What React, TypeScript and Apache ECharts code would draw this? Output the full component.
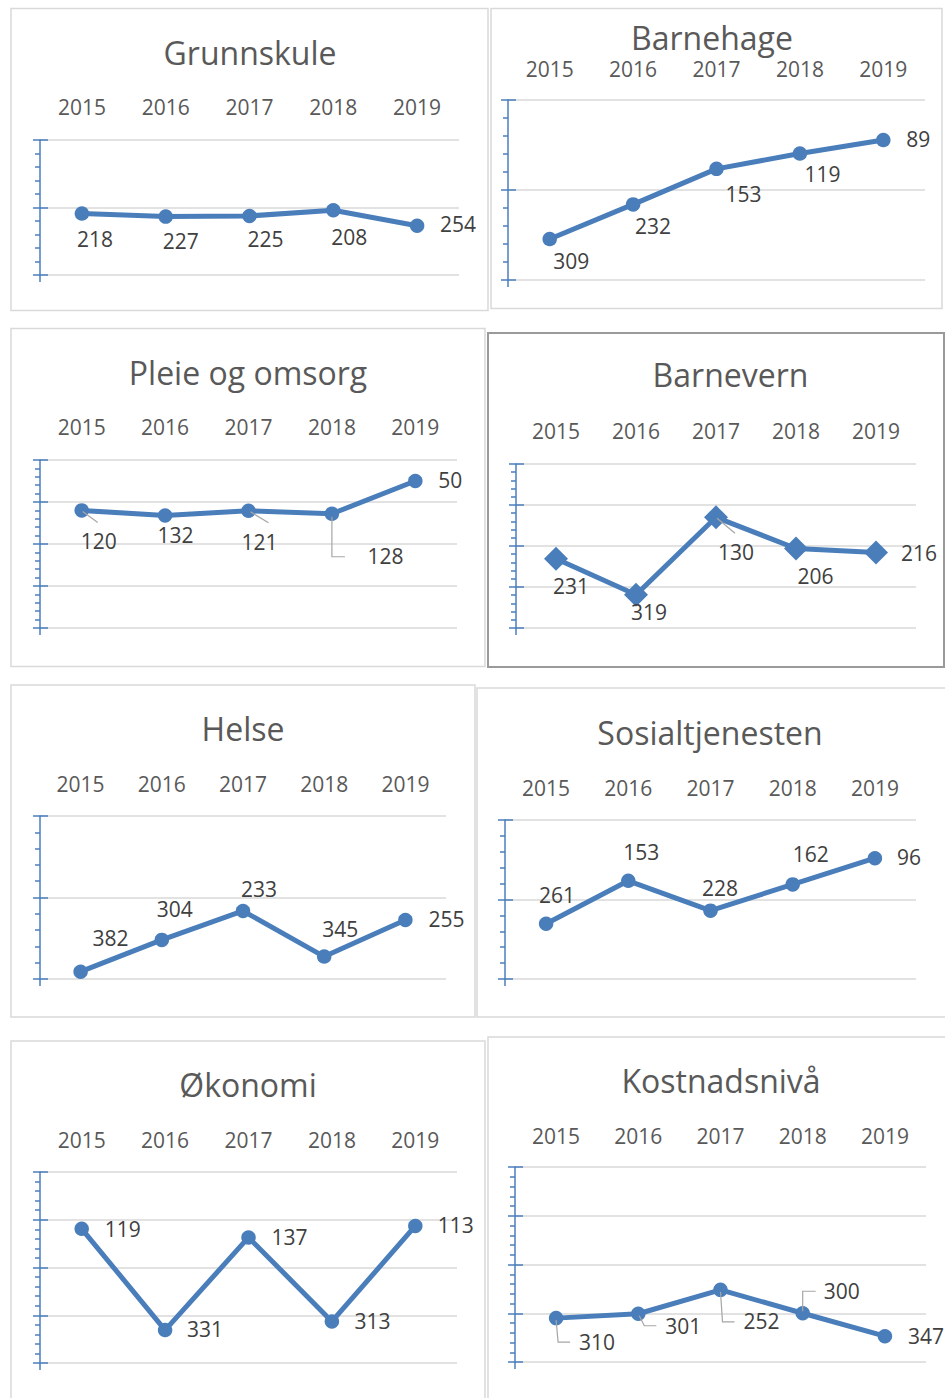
import React, { useEffect, useRef } from 'react';
import * as echarts from 'echarts';

// ---------- data ----------
const years = ['2015', '2016', '2017', '2018', '2019'];
const titles = ['Grunnskule', 'Barnehage', 'Pleie og omsorg', 'Barnevern', 'Helse', 'Sosialtjenesten', 'Økonomi', 'Kostnadsnivå'];
const grunnskule = [218, 227, 225, 208, 254];
const barnehage = [309, 232, 153, 119, 89];
const pleieOgOmsorg = [120, 132, 121, 128, 50];
const barnevern = [231, 319, 130, 206, 216];
const helse = [382, 304, 233, 345, 255];
const sosialtjenesten = [261, 153, 228, 162, 96];
const okonomi = [119, 331, 137, 313, 113];
const kostnadsniva = [310, 301, 252, 300, 347];
const panelValues = [grunnskule, barnehage, pleieOgOmsorg, barnevern, helse, sosialtjenesten, okonomi, kostnadsniva];
const yMin = 0;
const yMax = 400;
const yIntervals = [200, 200, 100, 100, 200, 200, 100, 100];

// ---------- layout / style ----------
type Layout = {
  border: number[];
  borderColor: string;
  borderWidth: number;
  title: number[];
  grid: number[];
  yearGap: number;
  symbol: string;
  symbolSize: number;
  labels: number[][];
  leaders: { idx: number; pts: number[][] }[];
};

const layouts: Layout[] = [
  { border: [11, 8.5, 477, 302], borderColor: '#d9d9d9', borderWidth: 1.5, title: [250, 52], grid: [40, 140, 419, 135], yearGap: 33,
    symbol: 'circle', symbolSize: 14.5, labels: [[13, 27], [15, 26], [16, 25], [16, 28], [41, 0]], leaders: [] },
  { border: [491, 8.5, 451, 300], borderColor: '#d9d9d9', borderWidth: 1.5, title: [712, 37.5], grid: [508, 100, 417, 180], yearGap: 31.5,
    symbol: 'circle', symbolSize: 14.5, labels: [[21.5, 23], [20, 23.5], [27, 26.5], [22.5, 21.5], [35, 0]], leaders: [] },
  { border: [11, 328.5, 474, 338], borderColor: '#d9d9d9', borderWidth: 1.5, title: [248, 372.5], grid: [40, 460, 417, 168], yearGap: 33,
    symbol: 'circle', symbolSize: 14.5, labels: [[17, 32], [10.5, 21], [11, 33], [53.5, 44], [35, 0]],
    leaders: [
      { idx: 0, pts: [[1, 1], [16, 12]] },
      { idx: 2, pts: [[2, 1], [20, 12]] },
      { idx: 3, pts: [[0, 3], [0, 43], [13, 43]] },
    ] },
  { border: [488, 333, 456, 334], borderColor: '#9a9a9a', borderWidth: 2, title: [730.5, 374.5], grid: [516, 464, 400, 164], yearGap: 33,
    symbol: 'diamond', symbolSize: 24, labels: [[15, 28.5], [13, 18.5], [20, 36], [19.5, 29.5], [43, 1.5]],
    leaders: [{ idx: 2, pts: [[1, 1], [19, 16]] }] },
  { border: [11, 685, 464, 332], borderColor: '#d9d9d9', borderWidth: 1.5, title: [243, 728], grid: [40, 816, 406, 163], yearGap: 32.5,
    symbol: 'circle', symbolSize: 14.5, labels: [[30, -32], [13, -29], [16, -20], [16, -26], [41, 1]], leaders: [] },
  { border: [477, 688, 470, 329], borderColor: '#d9d9d9', borderWidth: 1.5, title: [710, 732], grid: [505, 820, 411, 159], yearGap: 32.5,
    symbol: 'circle', symbolSize: 14.5, labels: [[11, -27], [13, -27], [9.5, -21], [18, -29], [34, 0]], leaders: [] },
  { border: [11, 1041, 474, 400], borderColor: '#d9d9d9', borderWidth: 1.5, title: [248, 1084], grid: [40, 1172, 417, 191], yearGap: 32,
    symbol: 'circle', symbolSize: 14.5, labels: [[41, 2], [40, 0.5], [41, 1], [40.5, 1.3], [40.5, 1]], leaders: [] },
  { border: [488, 1037, 470, 400], borderColor: '#d9d9d9', borderWidth: 1.5, title: [721, 1080], grid: [515, 1167, 411, 195], yearGap: 31,
    symbol: 'circle', symbolSize: 14.5, labels: [[41, 25], [45, 14], [41, 33], [39, -21], [41, 1]],
    leaders: [
      { idx: 0, pts: [[0, 2], [2, 24], [14, 24]] },
      { idx: 1, pts: [[1, 2], [6, 12], [18, 12]] },
      { idx: 2, pts: [[0, 2], [2, 32], [14, 32]] },
      { idx: 3, pts: [[0, -2], [0, -22], [13, -22]] },
    ] },
];

const labelNudgeY = -1.5;
const BLUE = '#4a7ebb';
const FONT = '"Open Sans", "Noto Sans", sans-serif';

function buildBaseGraphics(): any[] {
  const g: any[] = [];
  layouts.forEach((l, i) => {
    const [bx, by, bw, bh] = l.border;
    g.push({
      id: 'border' + i, type: 'rect', z: 0, silent: true,
      shape: { x: bx, y: by, width: bw, height: bh },
      style: { fill: '#ffffff', stroke: l.borderColor, lineWidth: l.borderWidth },
    });
    g.push({
      id: 'title' + i, type: 'text', z: 10, silent: true,
      x: l.title[0], y: l.title[1],
      style: { text: titles[i], fill: '#595959', font: '32px ' + FONT, align: 'center', verticalAlign: 'middle' },
    });
    const [gl, gt, , gh] = l.grid;
    g.push({
      id: 'axisext' + i, type: 'line', z: 10, silent: true,
      shape: { x1: gl, y1: gt + gh, x2: gl, y2: gt + gh + 7 },
      style: { stroke: BLUE, lineWidth: 1.5 },
    });
  });
  return g;
}

function buildOption(): any {
  const grid = layouts.map((l) => ({
    left: l.grid[0], top: l.grid[1], width: l.grid[2], height: l.grid[3],
    containLabel: false, outerBoundsMode: 'none',
  }));
  const xAxis = layouts.map((l, i) => ({
    type: 'category', gridIndex: i, data: years, position: 'top', boundaryGap: true,
    axisLine: { show: false }, axisTick: { show: false }, splitLine: { show: false },
    axisLabel: { interval: 0, margin: l.yearGap, verticalAlign: 'middle', fontSize: 21, color: '#595959', fontFamily: FONT },
  }));
  const yAxis: any[] = [];
  layouts.forEach((l, i) => {
    yAxis.push({
      type: 'value', gridIndex: i, position: 'left', inverse: true, min: yMin, max: yMax, interval: yIntervals[i],
      axisLine: { show: true, lineStyle: { color: BLUE, width: 1.5 } },
      axisTick: { show: true, inside: false, length: 7, lineStyle: { color: BLUE, width: 1.5 } },
      minorTick: { show: true, splitNumber: 5, length: 5, lineStyle: { color: BLUE, width: 1.5 } },
      axisLabel: { show: false },
      splitLine: { show: true, lineStyle: { color: '#d9d9d9', width: 1.5 } },
      minorSplitLine: { show: false },
    });
    yAxis.push({
      type: 'value', gridIndex: i, position: 'left', inverse: true, min: yMin, max: yMax, interval: yIntervals[i],
      axisLine: { show: false },
      axisTick: { show: true, inside: true, length: 8, lineStyle: { color: BLUE, width: 1.5 } },
      minorTick: { show: false },
      axisLabel: { show: false },
      splitLine: { show: false },
    });
  });
  const series = layouts.map((l, i) => ({
    type: 'line', xAxisIndex: i, yAxisIndex: 2 * i, silent: true,
    symbol: l.symbol, symbolSize: l.symbolSize, showAllSymbol: true,
    lineStyle: { color: BLUE, width: 5 },
    itemStyle: { color: BLUE },
    emphasis: { disabled: true },
    label: {
      show: true, position: 'inside', formatter: '{c}', fontSize: 21, color: '#404040', fontFamily: FONT,
      align: 'center', verticalAlign: 'middle',
    },
    data: panelValues[i].map((v, j) => ({ value: v, label: { offset: [l.labels[j][0], l.labels[j][1] + labelNudgeY] } })),
    z: 5,
  }));
  return {
    animation: false,
    backgroundColor: '#ffffff',
    grid, xAxis, yAxis, series,
    graphic: buildBaseGraphics(),
  };
}

export default function App() {
  const ref = useRef<HTMLDivElement>(null);
  useEffect(() => {
    if (!ref.current) return;
    const chart = echarts.init(ref.current, undefined, { renderer: 'svg' });
    chart.setOption(buildOption());
    const leaders: any[] = [];
    layouts.forEach((l, i) => {
      l.leaders.forEach((ld, k) => {
        const p = chart.convertToPixel({ seriesIndex: i }, [ld.idx, panelValues[i][ld.idx]]) as number[];
        if (!p) return;
        leaders.push({
          id: 'leader' + i + '_' + k, type: 'polyline', z: 20, silent: true,
          shape: { points: ld.pts.map(([dx, dy]) => [p[0] + dx, p[1] + dy]) },
          style: { stroke: '#a6a6a6', lineWidth: 1.2, fill: 'none' },
        });
      });
    });
    chart.setOption({ graphic: [...buildBaseGraphics(), ...leaders] });
    return () => chart.dispose();
  }, []);
  return (
    <div
      ref={ref}
      style={{ position: 'absolute', left: 0, top: 0, width: 945, height: 1398, background: '#ffffff' }}
    />
  );
}
